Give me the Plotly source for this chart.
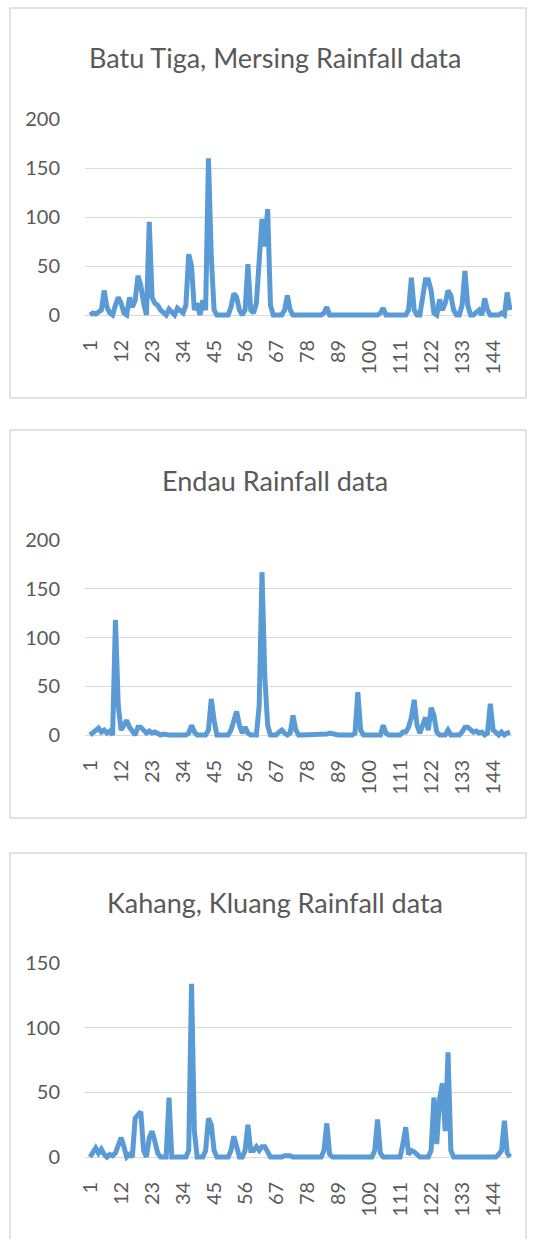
import plotly.graph_objects as go

# ---------------- data ----------------
days = list(range(1, 151))
tick_vals = [1, 12, 23, 34, 45, 56, 67, 78, 89, 100, 111, 122, 133, 144]
tick_text = [str(v) for v in tick_vals]

batu_tiga = [
    0, 2, 1, 3, 5, 25, 8, 2, 0, 10,
    18, 12, 2, 0, 18, 8, 15, 40, 30, 12,
    0, 95, 18, 12, 10, 5, 2, 0, 6, 2,
    0, 7, 5, 2, 10, 62, 50, 5, 12, 0,
    15, 5, 160, 60, 5, 0, 0, 0, 0, 0,
    8, 22, 18, 5, 0, 5, 52, 5, 2, 12,
    55, 98, 70, 108, 10, 0, 0, 0, 0, 5,
    20, 5, 0, 0, 0, 0, 0, 0, 0, 0,
    0, 0, 0, 2, 8, 0, 0, 0, 0, 0,
    0, 0, 0, 0, 0, 0, 0, 0, 0, 0,
    0, 0, 0, 2, 7, 0, 0, 0, 0, 0,
    0, 0, 0, 5, 38, 5, 0, 0, 15, 36,
    36, 25, 2, 0, 16, 5, 12, 25, 20, 5,
    0, 0, 10, 45, 10, 0, 0, 2, 5, 0,
    17, 5, 0, 0, 0, 0, 2, 0, 23, 5,
]

endau = [
    0, 2, 5, 7, 3, 5, 2, 4, 0, 118,
    30, 5, 10, 15, 8, 3, 0, 8, 8, 5,
    2, 4, 2, 3, 1, 0, 1, 0, 0, 0,
    0, 0, 0, 0, 0, 2, 10, 3, 0, 0,
    0, 0, 5, 37, 15, 0, 0, 0, 0, 0,
    5, 15, 24, 10, 2, 8, 2, 0, 0, 0,
    30, 167, 60, 10, 0, 0, 0, 3, 5, 2,
    0, 2, 20, 5, 0, 0, 0, 0, 0, 0,
    0, 0, 0, 0, 1, 2, 1, 0, 0, 0,
    0, 0, 0, 0, 2, 44, 5, 0, 0, 0,
    0, 0, 0, 0, 10, 2, 0, 0, 0, 0,
    0, 3, 3, 8, 18, 36, 10, 2, 12, 18,
    5, 28, 20, 3, 0, 0, 0, 5, 0, 0,
    0, 0, 3, 8, 8, 6, 3, 4, 2, 3,
    0, 2, 32, 5, 2, 0, 3, 0, 2, 3,
]

kahang = [
    0, 3, 7, 3, 6, 2, 0, 2, 1, 3,
    10, 15, 8, 0, 2, 0, 30, 33, 35, 5,
    0, 15, 20, 12, 3, 0, 0, 0, 46, 0,
    0, 0, 0, 0, 0, 5, 134, 20, 0, 0,
    0, 5, 30, 25, 5, 0, 0, 0, 0, 0,
    5, 16, 8, 0, 0, 5, 25, 5, 5, 8,
    5, 8, 8, 4, 0, 0, 0, 0, 0, 1,
    1, 1, 0, 0, 0, 0, 0, 0, 0, 0,
    0, 0, 0, 5, 26, 2, 0, 0, 0, 0,
    0, 0, 0, 0, 0, 0, 0, 0, 0, 0,
    0, 5, 29, 3, 0, 0, 0, 0, 0, 0,
    0, 10, 23, 2, 5, 4, 2, 0, 0, 0,
    0, 5, 46, 10, 45, 57, 20, 81, 5, 0,
    0, 0, 0, 0, 0, 0, 0, 0, 0, 0,
    0, 0, 0, 0, 0, 2, 5, 28, 3, 0,
]

titles = ["Batu Tiga, Mersing Rainfall data", "Endau Rainfall data", "Kahang, Kluang Rainfall data"]
series = [batu_tiga, endau, kahang]
y_ticks = [[0, 50, 100, 150, 200], [0, 50, 100, 150, 200], [0, 50, 100, 150]]

# ---------------- layout geometry (pixels) ----------------
W, H = 534, 1239
FONT = "Lato"
GREY = "#595959"
LINE = "#5B9BD5"
GRID = "#d9d9d9"

# (top px of ymax, zero px, ymax, ymin, title y px, frame top, frame bottom)
panels = [
    (119, 315, 200, -4, 57, 8, 398),
    (540, 735, 200, -4, 480, 430, 818),
    (963, 1157, 150, -3, 903, 853, 1245),
]
plot_left, plot_right = 85, 512


def fy(p):
    return 1 - p / H


fig = go.Figure()
shapes = []
annotations = []
for k, (title, vals, yt, pan) in enumerate(zip(titles, series, y_ticks, panels)):
    top, zero, ymax, ymin, ty, ftop, fbot = pan
    ppu = (zero - top) / ymax
    bottom = zero - ymin * ppu
    idx = "" if k == 0 else str(k + 1)
    fig.add_trace(go.Scatter(
        x=days, y=vals, mode="lines",
        line=dict(color=LINE, width=5, shape="linear"),
        xaxis="x" + idx, yaxis="y" + idx, showlegend=False,
        hoverinfo="x+y",
    ))
    fig.layout["xaxis" + idx] = dict(
        domain=[plot_left / W, plot_right / W],
        range=[-0.8, 150.7],
        tickmode="array", tickvals=tick_vals, ticktext=tick_text,
        tickangle=-90, showgrid=False, zeroline=False, showline=False,
        ticks="outside", ticklen=12, tickcolor="rgba(0,0,0,0)",
        tickfont=dict(family=FONT, size=20, color=GREY),
        anchor="y" + idx, fixedrange=True, automargin=False,
    )
    fig.layout["yaxis" + idx] = dict(
        domain=[fy(bottom), fy(top)],
        range=[ymin, ymax],
        tickmode="array", tickvals=yt,
        showgrid=True, gridcolor=GRID, gridwidth=1,
        zeroline=False, showline=False,
        ticks="outside", ticklen=20, tickcolor="rgba(0,0,0,0)",
        tickfont=dict(family=FONT, size=20, color=GREY),
        anchor="x" + idx, fixedrange=True, automargin=False,
    )
    shapes.append(dict(
        type="rect", xref="paper", yref="paper",
        x0=10 / W, x1=526 / W, y0=fy(fbot), y1=fy(ftop),
        line=dict(color=GRID, width=1.5), fillcolor="rgba(0,0,0,0)", layer="below",
    ))
    annotations.append(dict(
        text=title, xref="paper", yref="paper", x=275 / W, y=fy(ty),
        xanchor="center", yanchor="middle", showarrow=False,
        font=dict(family=FONT, size=27, color=GREY),
    ))

fig.update_layout(
    width=W, height=H,
    margin=dict(l=0, r=0, t=0, b=0, autoexpand=False),
    paper_bgcolor="white", plot_bgcolor="white",
    shapes=shapes, annotations=annotations,
    showlegend=False,
)

fig.write_html(
    "out.html",
    config={"displayModeBar": False},
    post_script="document.body.style.margin='0';document.body.style.overflow='hidden';",
)
